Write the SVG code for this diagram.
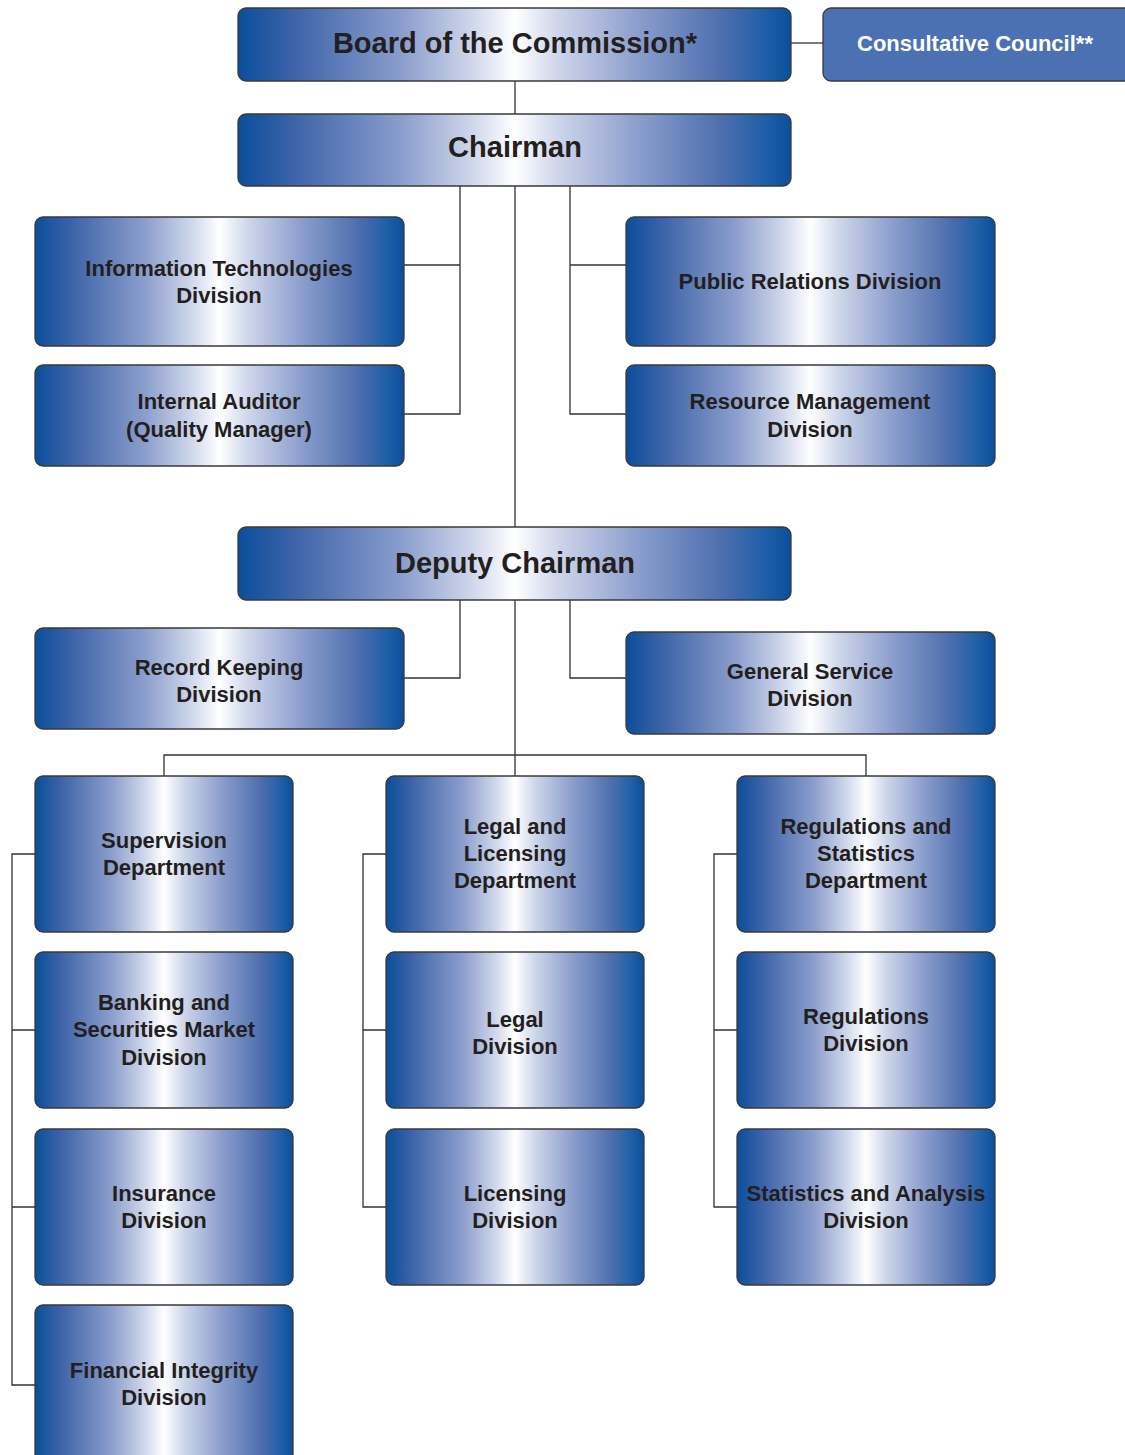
<svg xmlns="http://www.w3.org/2000/svg" width="1125" height="1455" viewBox="0 0 1125 1455">
<defs>
<linearGradient id="g" x1="0" y1="0" x2="1" y2="0">
<stop offset="0" stop-color="#0a4e9b"/>
<stop offset="0.1" stop-color="#3d63a8"/>
<stop offset="0.3" stop-color="#8c9fcd"/>
<stop offset="0.42" stop-color="#cdd5ea"/>
<stop offset="0.5" stop-color="#ffffff"/>
<stop offset="0.58" stop-color="#cdd5ea"/>
<stop offset="0.72" stop-color="#8c9fcd"/>
<stop offset="0.88" stop-color="#4b6dae"/>
<stop offset="0.95" stop-color="#2060a8"/>
<stop offset="1" stop-color="#0a4e9b"/>
</linearGradient>
<style>
.b{fill:url(#g);stroke:#3a3a3a;stroke-width:1.3}
.t{font-family:"Liberation Sans",Arial,sans-serif;font-weight:bold;fill:#231f20;text-anchor:middle;dominant-baseline:central;font-size:22px}
.big{font-size:29px}
.c{fill:none;stroke:#333;stroke-width:1.3}
</style>
</defs>
<g id="connectors" class="c">
<path d="M791 43H823"/>
<path d="M515 81V114"/>
<path d="M515 186V527"/>
<path d="M460 186V414H404M460 265H404"/>
<path d="M570 186V414H626M570 265H626"/>
<path d="M460 600V678H404"/>
<path d="M570 600V678H626"/>
<path d="M515 600V776"/>
<path d="M164 776V755H866V776"/>
<path d="M35 854H12V1385H35M12 1030H35M12 1207H35"/>
<path d="M386 854H363V1207H386M363 1030H386"/>
<path d="M737 854H714V1207H737M714 1030H737"/>
</g>
<g id="board"><rect class="b" x="238" y="8" width="553" height="73" rx="8"/><text class="t big" x="515" y="43">Board of the Commission*</text></g>
<g id="council"><rect x="823" y="8" width="310" height="73" rx="8" fill="#4b71b2" stroke="#3a3a3a" stroke-width="1.3"/><text class="t" x="975" y="43" style="fill:#fff">Consultative Council**</text></g>
<g id="chairman"><rect class="b" x="238" y="114" width="553" height="72" rx="8"/><text class="t big" x="515" y="147">Chairman</text></g>
<g id="it"><rect class="b" x="35" y="217" width="369" height="129" rx="8"/><text class="t" x="219" y="268">Information Technologies</text><text class="t" x="219" y="295">Division</text></g>
<g id="auditor"><rect class="b" x="35" y="365" width="369" height="101" rx="8"/><text class="t" x="219" y="401">Internal Auditor</text><text class="t" x="219" y="429">(Quality Manager)</text></g>
<g id="pr"><rect class="b" x="626" y="217" width="369" height="129" rx="8"/><text class="t" x="810" y="281">Public Relations Division</text></g>
<g id="resource"><rect class="b" x="626" y="365" width="369" height="101" rx="8"/><text class="t" x="810" y="401">Resource Management</text><text class="t" x="810" y="429">Division</text></g>
<g id="deputy"><rect class="b" x="238" y="527" width="553" height="73" rx="8"/><text class="t big" x="515" y="563">Deputy Chairman</text></g>
<g id="record"><rect class="b" x="35" y="628" width="369" height="101" rx="8"/><text class="t" x="219" y="667">Record Keeping</text><text class="t" x="219" y="694">Division</text></g>
<g id="general"><rect class="b" x="626" y="632" width="369" height="102" rx="8"/><text class="t" x="810" y="671">General Service</text><text class="t" x="810" y="698">Division</text></g>
<g id="supervision"><rect class="b" x="35" y="776" width="258" height="156" rx="8"/><text class="t" x="164" y="840">Supervision</text><text class="t" x="164" y="867">Department</text></g>
<g id="banking"><rect class="b" x="35" y="952" width="258" height="156" rx="8"/><text class="t" x="164" y="1002">Banking and</text><text class="t" x="164" y="1029">Securities Market</text><text class="t" x="164" y="1057">Division</text></g>
<g id="insurance"><rect class="b" x="35" y="1129" width="258" height="156" rx="8"/><text class="t" x="164" y="1193">Insurance</text><text class="t" x="164" y="1220">Division</text></g>
<g id="financial"><rect class="b" x="35" y="1305" width="258" height="170" rx="8"/><text class="t" x="164" y="1370">Financial Integrity</text><text class="t" x="164" y="1397">Division</text></g>
<g id="legallic"><rect class="b" x="386" y="776" width="258" height="156" rx="8"/><text class="t" x="515" y="826">Legal and</text><text class="t" x="515" y="853">Licensing</text><text class="t" x="515" y="880">Department</text></g>
<g id="legal"><rect class="b" x="386" y="952" width="258" height="156" rx="8"/><text class="t" x="515" y="1019">Legal</text><text class="t" x="515" y="1046">Division</text></g>
<g id="licensing"><rect class="b" x="386" y="1129" width="258" height="156" rx="8"/><text class="t" x="515" y="1193">Licensing</text><text class="t" x="515" y="1220">Division</text></g>
<g id="regstat"><rect class="b" x="737" y="776" width="258" height="156" rx="8"/><text class="t" x="866" y="826">Regulations and</text><text class="t" x="866" y="853">Statistics</text><text class="t" x="866" y="880">Department</text></g>
<g id="regulations"><rect class="b" x="737" y="952" width="258" height="156" rx="8"/><text class="t" x="866" y="1016">Regulations</text><text class="t" x="866" y="1043">Division</text></g>
<g id="statistics"><rect class="b" x="737" y="1129" width="258" height="156" rx="8"/><text class="t" x="866" y="1193">Statistics and Analysis</text><text class="t" x="866" y="1220">Division</text></g>
</svg>
